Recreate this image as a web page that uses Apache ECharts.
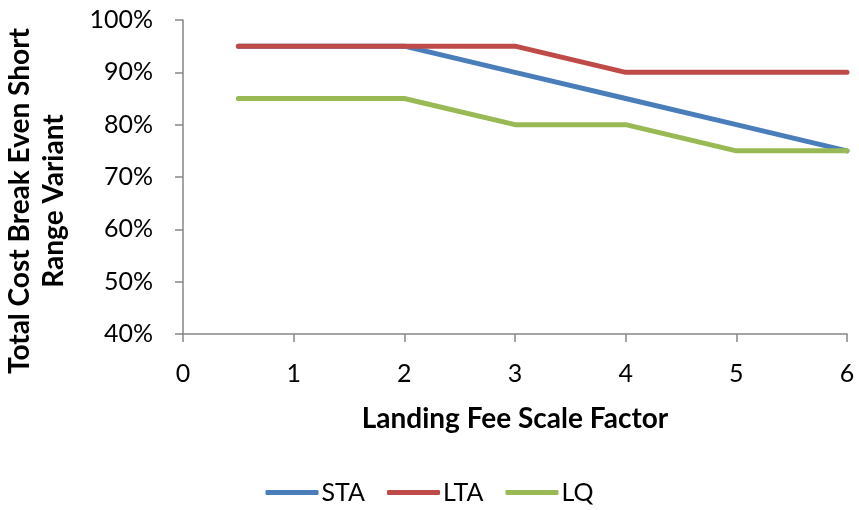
<!DOCTYPE html>
<html>
<head>
<meta charset="utf-8">
<script src="https://cdn.jsdelivr.net/npm/echarts@6/dist/echarts.min.js"></script>
<style>
html,body{margin:0;padding:0;background:#fff;}
#main{width:859px;height:510px;}
</style>
</head>
<body>
<div id="main"></div>
<script>
const xValues = [0.5, 2, 3, 4, 5, 6];
const staValues = [95, 95, 90, 85, 80, 75];
const ltaValues = [95, 95, 95, 90, 90, 90];
const lqValues = [85, 85, 80, 80, 75, 75];
const seriesNames = ['STA', 'LTA', 'LQ'];
const xTitle = 'Landing Fee Scale Factor';
const yTitle = 'Total Cost Break Even Short\nRange Variant';

const FONT = 'Lato';
const colors = ['#4A7EBB', '#BE4B48', '#98B954'];
function pairs(vals) { return xValues.map((x, i) => [x, vals[i]]); }

const chart = echarts.init(document.getElementById('main'));
chart.setOption({
  animation: false,
  textStyle: { fontFamily: FONT },
  grid: { left: 183, right: 12, top: 20, bottom: 176 },
  xAxis: {
    type: 'value', min: 0, max: 6, interval: 1,
    name: xTitle, nameLocation: 'middle', nameGap: 71,
    nameTextStyle: { fontFamily: FONT, fontSize: 28, fontWeight: 'bold', color: '#000' },
    axisLine: { show: true, onZero: false, lineStyle: { color: '#868686', width: 1.5 } },
    axisTick: { show: true, length: 8, lineStyle: { color: '#868686', width: 1.5 } },
    axisLabel: { fontFamily: FONT, fontSize: 25, color: '#000', margin: 27 },
    splitLine: { show: false }
  },
  yAxis: {
    type: 'value', min: 40, max: 100, interval: 10,
    axisLine: { show: true, lineStyle: { color: '#868686', width: 1.5 } },
    axisTick: { show: true, length: 8, lineStyle: { color: '#868686', width: 1.5 } },
    axisLabel: { fontFamily: FONT, fontSize: 25, color: '#000', margin: 30, formatter: '{value}%' },
    splitLine: { show: false }
  },
  legend: {
    bottom: 0, left: 'center',
    itemWidth: 53, itemHeight: 5, itemGap: 22,
    icon: 'roundRect',
    textStyle: { fontFamily: FONT, fontSize: 25, color: '#000', padding: [0, 0, 0, -2] },
    data: seriesNames
  },
  graphic: [{
    type: 'text', x: 37, y: 201, rotation: Math.PI / 2,
    style: {
      text: yTitle, fontFamily: FONT, fontSize: 28, fontWeight: 'bold', fill: '#000',
      align: 'center', verticalAlign: 'middle', lineHeight: 34
    }
  }],
  series: [staValues, ltaValues, lqValues].map((vals, i) => ({
    name: seriesNames[i], type: 'line', data: pairs(vals),
    showSymbol: false, symbol: 'none',
    lineStyle: { color: colors[i], width: 5, cap: 'round', join: 'round' },
    itemStyle: { color: colors[i] }
  }))
});
</script>
</body>
</html>
